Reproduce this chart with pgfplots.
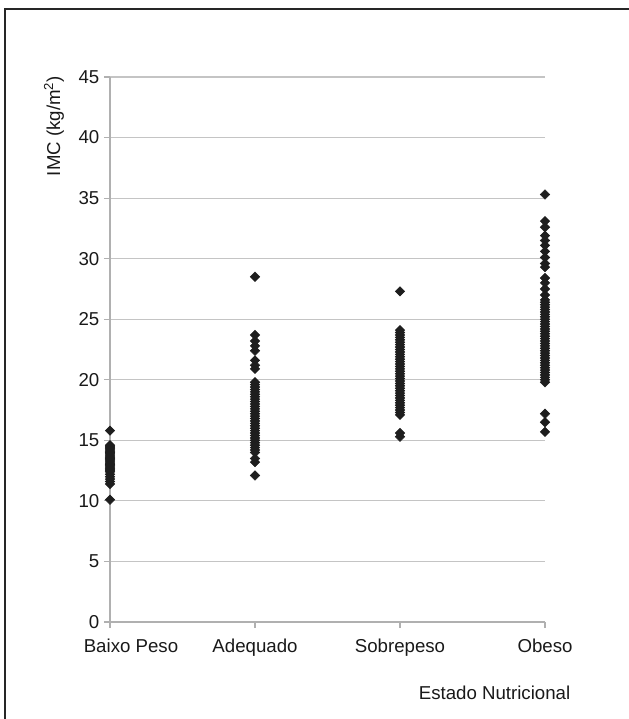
\documentclass[border=0pt]{standalone}
\usepackage{pgfplots}
\pgfplotsset{compat=1.18}
\usepackage{fontspec}
\setmainfont{Liberation Sans}
\definecolor{gridc}{HTML}{C4C4C4}
\definecolor{axc}{HTML}{B0B0B0}
\definecolor{ptc}{HTML}{1E1E1E}
\begin{document}
\begin{tikzpicture}
\path[use as bounding box] (0,0) rectangle (471.75pt,539.25pt);
\draw[line width=2.2pt, color=black!85] (3.75pt,-10pt) -- (3.75pt,532.5pt) -- (490pt,532.5pt);
\begin{axis}[
  at={(82.5pt,72.75pt)}, anchor=origin,
  scale only axis, width=326.25pt, height=408.75pt,
  xmin=0, xmax=3, ymin=0, ymax=45,
  xtick={0,1,2,3}, xticklabels={{\hspace*{31.5pt}Baixo Peso}, Adequado, Sobrepeso, Obeso},
  ytick={0,5,...,45},
  axis x line*=bottom, axis y line*=left,
  axis line style={color=axc, line width=0.8pt, -},
  ymajorgrids, grid style={color=gridc, line width=0.8pt},
  tick align=outside, major tick length=4.5pt,
  tick style={color=axc, line width=0.8pt},
  /pgf/number format/assume math mode=true,
  tick label style={font=\fontsize{14}{16}\selectfont, color=black!90},
  xticklabel style={yshift=-4.5pt},
  clip=false,
]
\addplot[only marks, mark=square*, mark size=2.5pt, color=ptc, mark options={rotate=45, fill=ptc, draw=ptc}] table {
x y
0 15.8
0 14.6
0 14.5
0 14.4
0 14.3
0 14.2
0 14.1
0 14.0
0 13.9
0 13.8
0 13.7
0 13.6
0 13.5
0 13.4
0 13.3
0 13.2
0 13.1
0 13.0
0 12.9
0 12.8
0 12.7
0 12.6
0 12.5
0 12.4
0 12.2
0 12.0
0 11.8
0 11.6
0 11.4
0 10.1
1 28.5
1 23.7
1 23.2
1 22.8
1 22.4
1 21.6
1 21.2
1 20.9
1 19.8
1 19.6
1 19.4
1 19.2
1 19.0
1 18.8
1 18.6
1 18.4
1 18.2
1 18.0
1 17.8
1 17.6
1 17.4
1 17.2
1 17.0
1 16.8
1 16.6
1 16.4
1 16.2
1 16.0
1 15.8
1 15.6
1 15.4
1 15.2
1 15.0
1 14.8
1 14.6
1 14.4
1 14.2
1 14.0
1 13.5
1 13.2
1 12.1
2 27.3
2 24.1
2 23.9
2 23.7
2 23.5
2 23.3
2 23.1
2 22.9
2 22.7
2 22.5
2 22.3
2 22.1
2 21.9
2 21.7
2 21.5
2 21.3
2 21.1
2 20.9
2 20.7
2 20.5
2 20.3
2 20.1
2 19.9
2 19.7
2 19.5
2 19.3
2 19.1
2 18.9
2 18.7
2 18.5
2 18.3
2 18.1
2 17.9
2 17.7
2 17.5
2 17.3
2 17.1
2 15.6
2 15.3
3 35.3
3 33.1
3 32.6
3 31.9
3 31.5
3 31.1
3 30.6
3 30.1
3 29.6
3 29.3
3 28.4
3 28.0
3 27.5
3 27.0
3 26.6
3 26.4
3 26.2
3 26.0
3 25.8
3 25.6
3 25.4
3 25.2
3 25.0
3 24.8
3 24.6
3 24.4
3 24.2
3 24.0
3 23.8
3 23.6
3 23.4
3 23.2
3 23.0
3 22.8
3 22.6
3 22.4
3 22.2
3 22.0
3 21.8
3 21.6
3 21.4
3 21.2
3 21.0
3 20.8
3 20.6
3 20.4
3 20.2
3 20.0
3 19.8
3 17.2
3 16.5
3 15.7
};
\end{axis}
\node[rotate=90, font=\fontsize{14}{16}\selectfont, color=black!90] at (40.5pt,444.75pt) {IMC (kg/m\textsuperscript{2})};
\node[anchor=east, font=\fontsize{14}{16}\selectfont, color=black!90] at (431.25pt,19.5pt) {Estado Nutricional};
\end{tikzpicture}
\end{document}
